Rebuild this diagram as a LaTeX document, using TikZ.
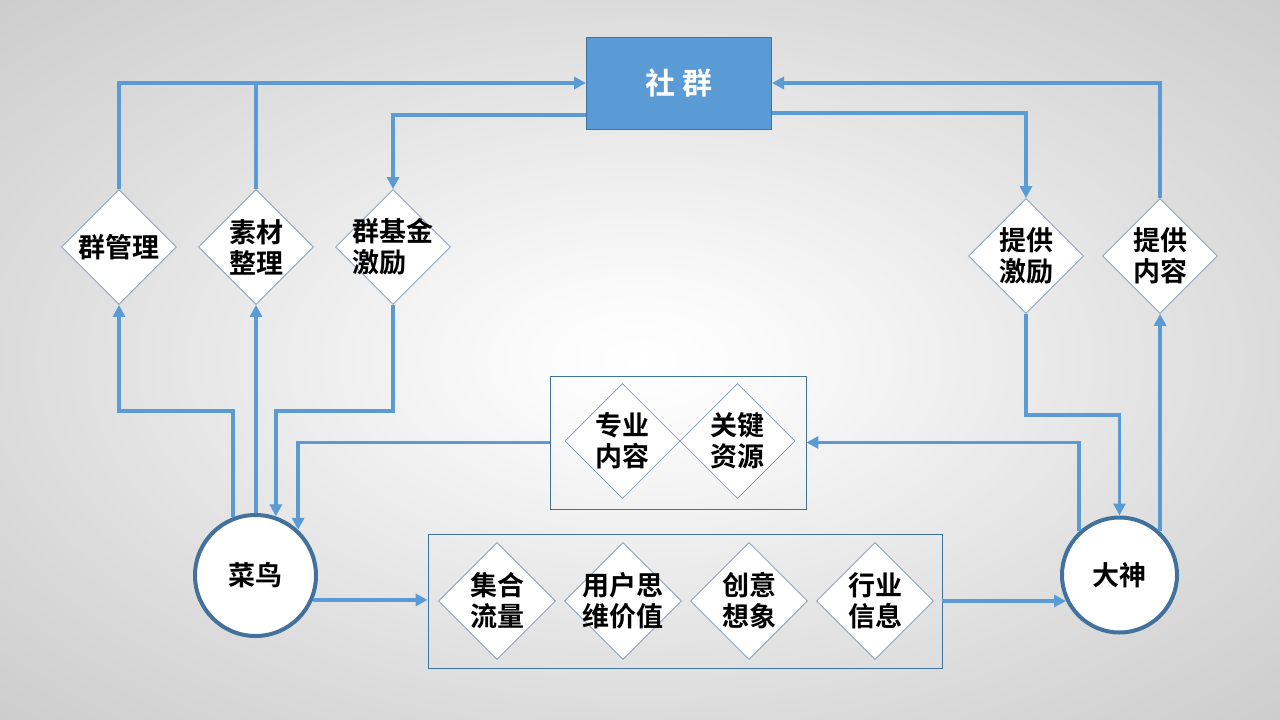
\documentclass[tikz,border=0pt]{standalone}
\usepackage{fontspec}
\newfontfamily\cjk{Noto Sans CJK SC}[BoldFont={Noto Sans CJK SC Bold}]
\usetikzlibrary{shapes.geometric}
\usetikzlibrary{arrows.meta}
\usetikzlibrary{positioning}
\definecolor{lineblue}{HTML}{5B9BD5}
\definecolor{edgeblue}{HTML}{41719C}
\definecolor{diaedge}{HTML}{7F97B5}
\pgfdeclareradialshading{bgshade}{\pgfpoint{0bp}{0bp}}{color(0bp)=(white); color(5bp)=(white!98!black); color(25bp)=(white!86!black); color(36bp)=(white!80!black); color(50bp)=(white!80!black)}

\begin{document}
\begin{tikzpicture}[x=1pt,y=-1pt,on grid,node distance=126pt,
      every node/.style={font=\cjk\bfseries\fontsize{27}{31}\selectfont},
      dia/.style={diamond, draw=diaedge, line width=0.8pt, fill=white, minimum size=115pt, inner sep=-15pt, align=left},
      frame/.style={draw=edgeblue, line width=0.8pt, inner sep=0pt},
      role/.style={circle, draw=edgeblue, line width=4pt, fill=white, inner sep=0pt},
      hub/.style={draw=edgeblue, line width=1pt, fill=lineblue, text=white, minimum width=185pt, minimum height=92pt, font=\cjk\bfseries\fontsize{30}{34}\selectfont},
      wire/.style={draw=lineblue, line width=3.6pt},
      conn/.style={wire, -{Triangle[length=12pt,width=12pt]}}]

      \useasboundingbox (0,0) rectangle (1280,720);
      \shade[shading=bgshade] (0,0) rectangle (1280,720);

      % top
      \node[hub] (sq) at (679,83) {社\hspace{8pt}群};

      % left diamonds
      \node[dia] (qgl) at (119,247) {群管理};
      \node[dia] (scz) at (256,247) {素材\\整理};
      \node[dia] (jj) at (393,247) {群基金\\激励};

      % right diamonds
      \node[dia] (tj) at (1026,256) {提供\\激励};
      \node[dia] (tn) at (1160,256) {提供\\内容};

      % middle box
      \node[frame, minimum width=256pt, minimum height=133pt] (mid) at (678,442.5) {};
      \node[dia] (zy) at (622.5,441) {专业\\内容};
      \node[dia] (gj) [right=115pt of zy] {关键\\资源};

      % bottom box
      \node[frame, minimum width=514pt, minimum height=134pt] (bot) at (685,601) {};
      \node[dia, minimum size=117pt] (jh) at (497,601) {集合\\流量};
      \node[dia, minimum size=117pt] (yh) [right=of jh] {用户思\\维价值};
      \node[dia, minimum size=117pt] (cy) [right=of yh] {创意\\想象};
      \node[dia, minimum size=117pt] (hy) [right=of cy] {行业\\信息};

      % roles
      \node[role, minimum size=121pt] (cn) at (255.5,575.5) {菜鸟};
      \node[role, minimum size=115pt] (ds) at (1119.5,575) {大神};

      % 菜鸟 side
      \draw[wire] (scz.north) -- (scz.north |- sq.west);
      \draw[conn] (qgl.north) |- (sq.west);
      \draw[conn] ([yshift=-32pt]sq.west) -| (jj.north);
      \draw[conn] (cn.111) -- (cn.111 |- 0,411) -| (qgl.south);
      \draw[conn] (cn.north -| scz.south) -- (scz.south);
      \draw[conn] (jj.south) -- (jj.south |- 0,411) -| (cn.71);
      \draw[conn] (mid.west) -| (cn.47);
      \draw[conn] (cn.-23) -- (cn.-23 -| bot.west);

      % 大神 side
      \draw[conn] (tn.north) |- (sq.east);
      \draw[conn] ([yshift=-30pt]sq.east) -| (tj.north);
      \draw[conn] (tj.south) -- (tj.south |- 0,415) -| (ds.north);
      \draw[conn] (ds.47) -- (ds.47 |- tn.south);
      \draw[conn] (ds.133) |- (mid.east);
      \draw[conn] (bot.east) -- (bot.east -| ds.206);

    \end{tikzpicture}
\end{document}
